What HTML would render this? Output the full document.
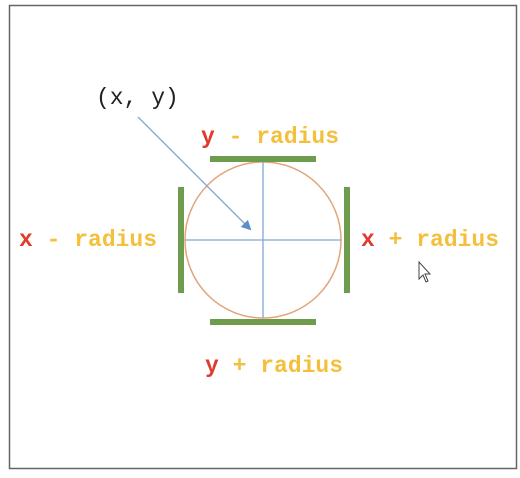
<!DOCTYPE html>
<html><head><meta charset="utf-8"><style>
html,body{margin:0;padding:0;background:#fff;width:520px;height:478px;overflow:hidden}
svg{display:block}
text{font-family:"Liberation Mono",monospace;font-weight:bold;font-size:23px}
</style></head><body>
<svg width="520" height="478" viewBox="0 0 520 478">
<defs><marker id="ah" markerWidth="10" markerHeight="10" refX="8" refY="5" orient="auto" markerUnits="userSpaceOnUse"><path d="M0,0 L10,5 L0,10 Z" fill="#5b8fc9"/></marker></defs>
<rect x="9.5" y="5.5" width="507" height="463" fill="#fff" stroke="#666" stroke-width="1.5"/>
<circle cx="263" cy="240" r="78" fill="none" stroke="#e3a47a" stroke-width="1.5"/>
<line x1="263" y1="162" x2="263" y2="318" stroke="#7fa8d4" stroke-width="1.3"/>
<line x1="185" y1="240" x2="341" y2="240" stroke="#7fa8d4" stroke-width="1.3"/>
<rect x="210" y="156" width="106" height="6" fill="#6e9b4c"/>
<rect x="210" y="319" width="106" height="6" fill="#6e9b4c"/>
<rect x="178" y="187" width="6" height="106" fill="#6e9b4c"/>
<rect x="344" y="187" width="6" height="106" fill="#6e9b4c"/>
<line x1="138" y1="117" x2="250" y2="229" stroke="#7fa8d4" stroke-width="1.3" marker-end="url(#ah)"/>
<text x="96" y="104" style="font-weight:normal;fill:#222">(x, y)</text>
<text x="201" y="143"><tspan fill="#e03a2c">y</tspan><tspan fill="#f4c03c"> - radius</tspan></text>
<text x="19" y="246"><tspan fill="#e03a2c">x</tspan><tspan fill="#f4c03c"> - radius</tspan></text>
<text x="361" y="246"><tspan fill="#e03a2c">x</tspan><tspan fill="#f4c03c"> + radius</tspan></text>
<text x="205" y="372"><tspan fill="#e03a2c">y</tspan><tspan fill="#f4c03c"> + radius</tspan></text>
<path d="M419,262 L419,279 L423,275 L426,282 L428,281 L425,274 L430,274 Z" fill="#fff" stroke="#444" stroke-width="1"/>
</svg>
</body></html>
